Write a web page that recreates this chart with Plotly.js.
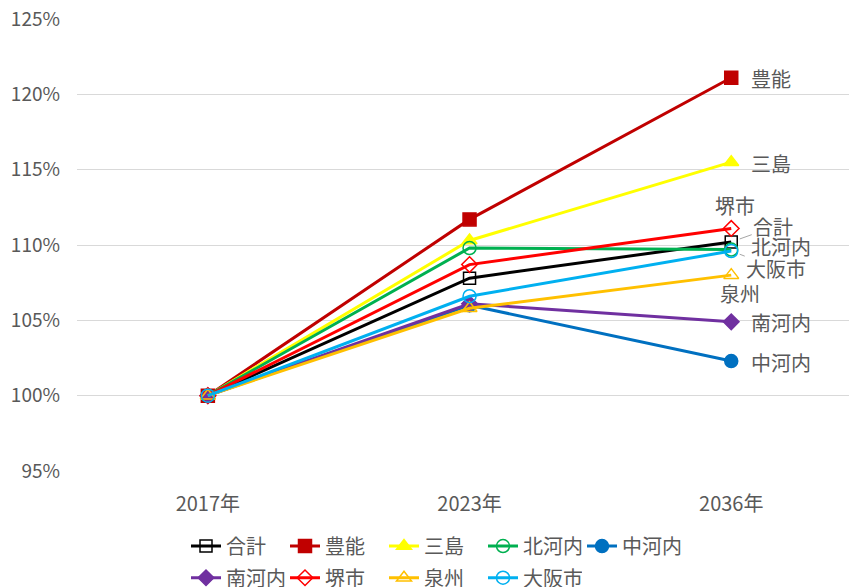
<!DOCTYPE html>
<html><head><meta charset="utf-8">
<script src="https://cdn.plot.ly/plotly-3.0.1.min.js"></script>
<style>body{margin:0;background:#fff}#c{width:849px;height:587px}</style>
</head><body><div id="c"></div>
<script>
const years = ["2017年", "2023年", "2036年"];
const names = ["合計", "豊能", "三島", "北河内", "中河内", "南河内", "堺市", "泉州", "大阪市"];
const v_total   = [100, 107.8, 110.2];
const v_toyono  = [100, 111.7, 121.1];
const v_mishima = [100, 110.3, 115.5];
const v_kitakawachi = [100, 109.8, 109.7];
const v_nakakawachi = [100, 106.0, 102.3];
const v_minamikawachi = [100, 106.1, 104.9];
const v_sakai   = [100, 108.7, 111.1];
const v_senshu  = [100, 105.8, 108.0];
const v_osaka   = [100, 106.6, 109.6];
const yTicks = [95, 100, 105, 110, 115, 120, 125];
const yTickText = ["95%", "100%", "105%", "110%", "115%", "120%", "125%"];

const series = [v_total, v_toyono, v_mishima, v_kitakawachi, v_nakakawachi, v_minamikawachi, v_sakai, v_senshu, v_osaka];
const styles = [
  {c:"#000000", s:"square-open", sz:12, lg:"legend"},
  {c:"#C00000", s:"square", sz:13, lg:"legend"},
  {c:"#FFFF00", s:"triangle-up", sz:13, lg:"legend"},
  {c:"#00B050", s:"circle-open", sz:13, lg:"legend"},
  {c:"#0070C0", s:"circle", sz:13, lg:"legend"},
  {c:"#7030A0", s:"diamond", sz:12, lg:"legend2"},
  {c:"#FF0000", s:"diamond-open", sz:12, lg:"legend2"},
  {c:"#FFC000", s:"triangle-up-open", sz:13, lg:"legend2"},
  {c:"#00B0F0", s:"circle-open", sz:13, lg:"legend2"}
];
const lab = [
  {arrow:true, ax:42, ay:-15},
  {xa:"left", dx:18, dy:-1},
  {xa:"left", dx:18, dy:-1},
  {xa:"left", dx:18, dy:3},
  {xa:"left", dx:18, dy:-1},
  {xa:"left", dx:18, dy:-1},
  {xa:"center", dx:4, dy:23},
  {xa:"center", dx:9, dy:-18},
  {arrow:true, ax:45, ay:17}
];
const font = "'Noto Sans CJK JP', 'Noto Sans', sans-serif";
const traces = series.map((v,i)=>({
  x: years, y: v, name: names[i], type:"scatter", mode:"lines+markers", legend: styles[i].lg,
  line:{color:styles[i].c, width:3},
  marker:{symbol:styles[i].s, size:styles[i].sz, color:styles[i].c, line:{color:styles[i].c, width:1.5}}
}));
const annotations = series.map((v,i)=>{
  const a = {x: years[2], y: v[2], xref:"x", yref:"y", text: names[i],
    font:{family:font, size:20, color:"#595959"}};
  if (lab[i].arrow) {
    Object.assign(a, {showarrow:true, ax:lab[i].ax, ay:lab[i].ay, arrowhead:0, arrowwidth:1, arrowcolor:"#A6A6A6", standoff:9});
  } else {
    Object.assign(a, {showarrow:false, xanchor:lab[i].xa, yanchor:"middle", xshift:lab[i].dx, yshift:lab[i].dy});
  }
  return a;
});
const legFont = {size:20, color:"#595959", family:font};
const layout = {
  width:849, height:587,
  margin:{l:77, r:0, t:19, b:116},
  paper_bgcolor:"#fff", plot_bgcolor:"#fff",
  font:{family:font, color:"#595959", size:17},
  xaxis:{type:"category", range:[-0.5, 2.45], showgrid:false, zeroline:false, showline:false, ticks:"", ticklabelstandoff:19, tickfont:{size:20, color:"#595959"}},
  yaxis:{range:[95,125], tickvals:yTicks, ticktext:yTickText, showgrid:true, gridcolor:"#D9D9D9", gridwidth:1, zeroline:false, showline:false, ticks:"", ticklabelstandoff:16, tickfont:{size:19, color:"#595959"}},
  showlegend:true,
  legend:{orientation:"h", x:0.5, xanchor:"center", yref:"container", y:0.103, yanchor:"top", font:legFont, entrywidth:54, itemwidth:30},
  legend2:{orientation:"h", x:0.5, xanchor:"center", yref:"container", y:0.049, yanchor:"top", font:legFont, entrywidth:54, itemwidth:30},
  annotations: annotations
};
Plotly.newPlot("c", traces, layout, {displayModeBar:false, staticPlot:true}).then(gd=>{
  const fl = gd._fullLayout, s = fl._size, leftPx = 186;
  const x1 = (leftPx - s.l + fl.legend._width/2)/s.w;
  const x2 = (leftPx - s.l + fl.legend2._width/2)/s.w;
  return Plotly.relayout(gd, {"legend.x": x1, "legend2.x": x2});
});
</script></body></html>
